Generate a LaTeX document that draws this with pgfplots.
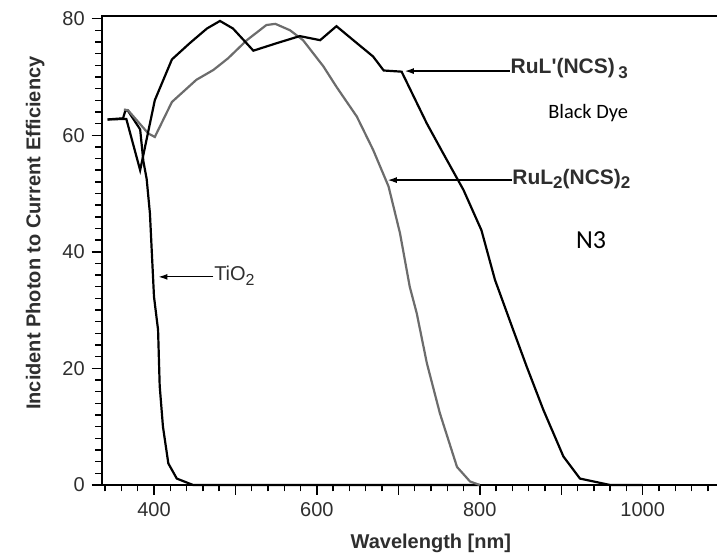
\documentclass[border=0pt]{standalone}
\usepackage{fontspec}
\setmainfont{Liberation Sans}
\newfontfamily\calibri{Carlito}
\usepackage{pgfplots}
\pgfplotsset{compat=1.18}
\usetikzlibrary{arrows.meta}
\definecolor{txt}{HTML}{2E2E2E}
\definecolor{n3gray}{HTML}{6C6C6C}
\begin{document}
\begin{tikzpicture}[x=1pt,y=1pt]
\useasboundingbox (0,0) rectangle (358.5,278);
\begin{axis}[
  at={(50.85pt,35.5pt)}, anchor=south west,
  scale only axis, width=329.15pt, height=234.5pt,
  xmin=335.8, xmax=1144, ymin=0, ymax=80.45,
  axis line style={line width=0.8pt},
  tick align=outside, tick pos=left,
  xtick={400,600,800,1000}, minor xtick={340,360,...,1140},
  extra x ticks={500,700,900,1100}, extra x tick labels={},
  extra x tick style={major tick length=5pt},
  ytick={0,20,...,80}, minor ytick={0,2,...,80},
  major tick length=5pt, minor tick length=3.2pt,
  every tick/.style={black, line width=0.7pt},
  /pgf/number format/assume math mode=true,
  /pgf/number format/set thousands separator={},
  ticklabel style={font=\fontsize{10}{12}\selectfont, text=txt},
  xlabel={Wavelength [nm]},
  ylabel={Incident Photon to Current Efficiency},
  xlabel style={font=\bfseries\fontsize{10}{12}\selectfont, text=txt, at={(axis description cs:0.5,-0.1237)}, anchor=center},
  ylabel style={font=\bfseries\fontsize{10}{12}\selectfont, text=txt, at={(axis description cs:-0.101,0.537)}, anchor=center},
  clip=false,
]
% TiO2
\addplot[black, line width=1.1pt] coordinates {
 (343,62.7) (362,62.9) (365,64.3) (368,64.2) (383,61.0) (387,55.5) (391,52.5)
 (395,46.6) (398,38.0) (400,32.3) (405,26.6) (407,17.0) (411,10.0) (417.6,3.7)
 (428,1.1) (448,0) (800,0)};
% N3
\addplot[n3gray, line width=1.1pt] coordinates {
 (363,64.4) (368,64.3) (393,60.3) (401,59.7) (422,65.7) (452,69.5) (473,71.2)
 (491,73.2) (514,76.3) (538,78.9) (549,79.1) (567,78.0) (583,76.3) (608,71.8)
 (624,68.3) (649,63.2) (669,57.5) (688,51.2) (702,43.2) (714,34.0) (722.5,29.5)
 (735,20.9) (751,12.3) (772,3.1) (788,0.6) (800,0)};
% Black dye
\addplot[black, line width=1.1pt] coordinates {
 (343,62.7) (366,62.8) (383,54.0) (401,66.0) (422,73.0) (444,75.8) (465,78.3)
 (481,79.6) (497,78.3) (522,74.5) (551,75.8) (579,77.0) (604,76.3) (624,78.7)
 (649,75.8) (669,73.5) (682,71.1) (704,70.9) (735,62.0) (755,56.9) (780,50.6)
 (802,43.7) (818.6,35.2) (841,26.6) (857.6,20.3) (878,12.9) (902.6,4.9)
 (923,1.1) (960,0) (1000,0)};
% annotations
\draw[-{Latex[length=4.5pt,width=3pt]}, line width=0.6pt] (axis cs:837,71) -- (axis cs:708,71);
\node[anchor=west, inner sep=0, font=\bfseries\fontsize{10.5}{12}\selectfont, text=txt] at (axis cs:837.5,71.4) {RuL\textquotesingle(NCS)\,{\fontsize{8.5}{9}\selectfont\raisebox{-2.5pt}{3}}};
\draw[-{Latex[length=4.5pt,width=3pt]}, line width=0.6pt] (axis cs:839,52.3) -- (axis cs:687,52.3);
\node[anchor=west, inner sep=0, font=\bfseries\fontsize{10.5}{12}\selectfont, text=txt] at (axis cs:839.5,52.5) {RuL{\fontsize{8.5}{9}\selectfont\raisebox{-2pt}{2}}(NCS){\fontsize{8.5}{9}\selectfont\raisebox{-2pt}{2}}};
\draw[-{Latex[length=4.5pt,width=3pt]}, line width=0.6pt] (axis cs:473,35.7) -- (axis cs:405.5,35.7);
\node[anchor=west, inner sep=0, font=\fontsize{10}{12}\selectfont, text=txt] at (axis cs:473.5,35.9) {TiO{\fontsize{8}{9}\selectfont\raisebox{-2.5pt}{2}}};
\node[font=\calibri\fontsize{10.2}{12}\selectfont, text=black] at (axis cs:933,63.8) {Black Dye};
\node[font=\calibri\fontsize{13}{15}\selectfont, text=black] at (axis cs:936.5,42) {N3};
\end{axis}
\end{tikzpicture}
\end{document}
